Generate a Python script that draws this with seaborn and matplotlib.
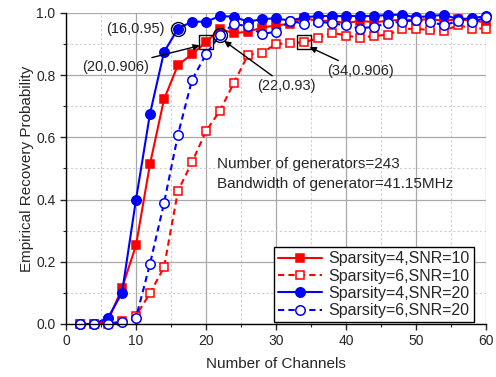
import numpy as np
import pandas as pd
import matplotlib
matplotlib.use("Agg")
import matplotlib.pyplot as plt
import seaborn as sns
from matplotlib.ticker import MultipleLocator

channels = list(range(2, 61, 2))
s4_snr10 = [0, 0, 0.01, 0.115, 0.253, 0.514, 0.722, 0.833, 0.867, 0.906,
            0.948, 0.935, 0.94, 0.953, 0.96, 0.965, 0.983, 0.975, 0.975, 0.967,
            0.975, 0.97, 0.975, 0.978, 0.978, 0.98, 0.975, 0.98, 0.975, 0.97]
s6_snr10 = [0, 0, 0, 0.01, 0.026, 0.099, 0.182, 0.428, 0.52, 0.62,
            0.686, 0.776, 0.865, 0.872, 0.9, 0.903, 0.906, 0.918, 0.937, 0.927,
            0.921, 0.926, 0.93, 0.949, 0.949, 0.945, 0.942, 0.961, 0.95, 0.95]
s4_snr20 = [0, 0, 0.02, 0.10, 0.40, 0.676, 0.874, 0.95, 0.972, 0.972,
            0.99, 0.988, 0.972, 0.98, 0.983, 0.975, 0.986, 0.99, 0.99, 0.99,
            0.99, 0.99, 0.994, 0.994, 0.986, 0.99, 0.994, 0.98, 0.983, 0.99]
s6_snr20 = [0, 0, 0, 0.005, 0.02, 0.193, 0.388, 0.609, 0.785, 0.867,
            0.93, 0.965, 0.957, 0.932, 0.94, 0.975, 0.965, 0.972, 0.967, 0.96,
            0.95, 0.956, 0.967, 0.972, 0.977, 0.972, 0.96, 0.975, 0.97, 0.986]
labels = ["Sparsity=4,SNR=10", "Sparsity=6,SNR=10", "Sparsity=4,SNR=20", "Sparsity=6,SNR=20"]

sns.set_style("white")
plt.rcParams['font.family'] = ['Liberation Sans', 'DejaVu Sans']

fig = plt.figure(figsize=(4.96, 3.77), dpi=100)
ax = fig.add_axes([0.133, 0.1406, 0.847, 0.825])

ax.xaxis.set_major_locator(MultipleLocator(10))
ax.xaxis.set_minor_locator(MultipleLocator(5))
ax.yaxis.set_major_locator(MultipleLocator(0.2))
ax.yaxis.set_minor_locator(MultipleLocator(0.1))
ax.grid(True, which='major', color='#a8a8a8', lw=0.9, ls='-')
ax.grid(True, which='minor', color='#cfcfcf', lw=0.8, ls=(0, (2, 2)))
ax.set_axisbelow(True)

styles = [
    (s4_snr10, '#ff0000', 's', 'red', '-'),
    (s6_snr10, '#ff0000', 's', 'white', (0, (3, 2))),
    (s4_snr20, '#0000ff', 'o', 'blue', '-'),
    (s6_snr20, '#0000ff', 'o', 'white', (0, (3, 2))),
]
for (vals, col, mk, fc, ls), lab in zip(styles, labels):
    df = pd.DataFrame({'x': channels, 'y': vals})
    sns.lineplot(data=df, x='x', y='y', ax=ax, color=col, marker=mk,
                 markerfacecolor=fc, markeredgecolor=col, markersize=5.8 if mk == 's' else 6.8,
                 markeredgewidth=1.1, lw=1.5, linestyle=ls, label=lab, clip_on=False)

ax.set_xlim(0, 60)
ax.set_ylim(0, 1.0)
ax.set_xlabel("Number of Channels", fontsize=11, labelpad=6)
ax.set_ylabel("Empirical Recovery Probability", fontsize=11)
ax.tick_params(axis='both', which='major', direction='out', length=4, width=1,
               labelsize=10, bottom=True, left=True)
ax.tick_params(axis='both', which='minor', direction='out', length=2.5, width=0.8,
               bottom=True, left=True)
ax.yaxis.set_major_formatter(matplotlib.ticker.FormatStrFormatter('%.1f'))
for s in ['top', 'right']:
    ax.spines[s].set_visible(False)
for s in ['left', 'bottom']:
    ax.spines[s].set_color('black')
    ax.spines[s].set_linewidth(1.0)
ax.yaxis.set_label_coords(-0.077, 0.5)

# annotation markers
ax.plot([16], [0.95], marker='o', ms=10, mfc='none', mec='black', mew=1.0, clip_on=False)
ax.plot([22], [0.93], marker='o', ms=10, mfc='none', mec='black', mew=1.0, clip_on=False)
ax.plot([20], [0.906], marker='s', ms=10, mfc='none', mec='black', mew=1.0, clip_on=False)
ax.plot([34], [0.906], marker='s', ms=10, mfc='none', mec='black', mew=1.0, clip_on=False)

ax.text(14.1, 0.948, "(16,0.95)", ha='right', va='center', fontsize=10.5)
ax.annotate("(20,0.906)", xy=(19.1, 0.895), xytext=(11.8, 0.827),
            ha='right', va='center', fontsize=10.5,
            arrowprops=dict(arrowstyle='-|>', color='black', lw=1.0, mutation_scale=9,
                            shrinkA=0, shrinkB=0))
ax.annotate("(22,0.93)", xy=(22.6, 0.91), xytext=(27.3, 0.765),
            ha='left', va='center', fontsize=10.5,
            arrowprops=dict(arrowstyle='-|>', color='black', lw=1.0, mutation_scale=9,
                            shrinkA=0, shrinkB=0))
ax.annotate("(34,0.906)", xy=(34.8, 0.89), xytext=(37.3, 0.814),
            ha='left', va='center', fontsize=10.5,
            arrowprops=dict(arrowstyle='-|>', color='black', lw=1.0, mutation_scale=9,
                            shrinkA=0, shrinkB=0))

ax.text(21.5, 0.515, "Number of generators=243", fontsize=11, va='center')
ax.text(21.5, 0.45, "Bandwidth of generator=41.15MHz", fontsize=11, va='center')

leg = ax.legend(loc='lower right', bbox_to_anchor=(0.975, 0.0), fontsize=11.5,
                frameon=True, fancybox=False, edgecolor='black', framealpha=1,
                handlelength=2.8, borderpad=0.25, labelspacing=0.15, handletextpad=0.4,
                borderaxespad=0.1)
leg.get_frame().set_linewidth(1.0)

fig.savefig("out.png", dpi=100)
